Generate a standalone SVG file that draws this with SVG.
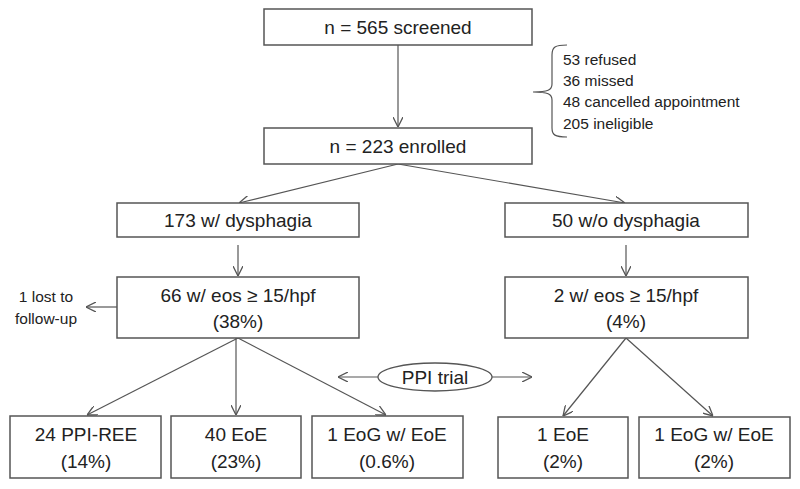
<svg xmlns="http://www.w3.org/2000/svg" width="800" height="489" viewBox="0 0 800 489">
<defs>
<marker id="arr" viewBox="0 0 10 10" refX="10" refY="5" markerWidth="10" markerHeight="10" markerUnits="userSpaceOnUse" orient="auto">
<path d="M0,0 L10,5 L0,10" fill="none" stroke="#555" stroke-width="1.3"/>
</marker>
<style>
.box{fill:#fff;stroke:#555;stroke-width:1.5}
.t{font-family:"Liberation Sans",Arial,sans-serif;font-size:19px;fill:#222;text-anchor:middle}
.s{font-family:"Liberation Sans",Arial,sans-serif;font-size:15.5px;fill:#222}
.c{fill:none;stroke:#555;stroke-width:1.2}
</style>
</defs>
<rect width="800" height="489" fill="#fff"/>
<g id="connectors">
<line class="c" x1="398" y1="45" x2="398" y2="127" marker-end="url(#arr)"/>
<line class="c" x1="398" y1="164" x2="239" y2="203" marker-end="url(#arr)"/>
<line class="c" x1="398" y1="164" x2="625" y2="203" marker-end="url(#arr)"/>
<line class="c" x1="238" y1="245" x2="238" y2="276" marker-end="url(#arr)"/>
<line class="c" x1="626" y1="245" x2="626" y2="276" marker-end="url(#arr)"/>
<line class="c" x1="117" y1="307" x2="86" y2="307" marker-end="url(#arr)"/>
<line class="c" x1="238" y1="338" x2="87" y2="415" marker-end="url(#arr)"/>
<line class="c" x1="236" y1="338" x2="236" y2="415" marker-end="url(#arr)"/>
<line class="c" x1="238" y1="338" x2="386" y2="415" marker-end="url(#arr)"/>
<line class="c" x1="626" y1="338" x2="563" y2="416" marker-end="url(#arr)"/>
<line class="c" x1="626" y1="338" x2="713" y2="416" marker-end="url(#arr)"/>
<line class="c" x1="378" y1="377" x2="338" y2="377" marker-end="url(#arr)"/>
<line class="c" x1="492" y1="377" x2="532" y2="377" marker-end="url(#arr)"/>
<path class="c" d="M567,45 C555,45 552,47 552,55 L552,84 C552,90 548,92 533,92 C548,92 552,94 552,100 L552,128 C552,135 555,137 567,137"/>
</g>
<g id="screened"><rect class="box" x="264" y="9" width="268" height="36"/><text class="t" x="398" y="34">n = 565 screened</text></g>
<g id="exclusions">
<text class="s" x="563" y="65">53 refused</text>
<text class="s" x="563" y="86">36 missed</text>
<text class="s" x="563" y="107">48 cancelled  appointment</text>
<text class="s" x="563" y="129">205 ineligible</text>
</g>
<g id="enrolled"><rect class="box" x="264" y="128" width="268" height="36"/><text class="t" x="398" y="153">n = 223 enrolled</text></g>
<g id="dysphagia"><rect class="box" x="117" y="203" width="242" height="34"/><text class="t" x="238" y="227">173 w/ dysphagia</text></g>
<g id="nodysphagia"><rect class="box" x="505" y="203" width="243" height="34"/><text class="t" x="626" y="227">50 w/o dysphagia</text></g>
<g id="eos66"><rect class="box" x="117" y="277" width="242" height="61"/><text class="t" x="238" y="302">66 w/ eos ≥ 15/hpf</text><text class="t" x="238" y="328">(38%)</text></g>
<g id="eos2"><rect class="box" x="505" y="277" width="243" height="61"/><text class="t" x="626" y="302">2 w/ eos ≥ 15/hpf</text><text class="t" x="626" y="328">(4%)</text></g>
<g id="lost"><text class="s" x="46" y="302" text-anchor="middle">1 lost to</text><text class="s" x="46" y="324" text-anchor="middle">follow-up</text></g>
<g id="ppitrial"><ellipse cx="435" cy="377" rx="57" ry="14" fill="#fff" stroke="#555" stroke-width="1.3"/><text class="t" x="435" y="384">PPI trial</text></g>
<g id="ppiree"><rect class="box" x="10" y="416" width="151" height="62"/><text class="t" x="86" y="441">24 PPI-REE</text><text class="t" x="86" y="468">(14%)</text></g>
<g id="eoe40"><rect class="box" x="171" y="416" width="130" height="62"/><text class="t" x="236" y="441">40 EoE</text><text class="t" x="236" y="468">(23%)</text></g>
<g id="eog1"><rect class="box" x="312" y="416" width="151" height="62"/><text class="t" x="387" y="441">1 EoG w/ EoE</text><text class="t" x="387" y="468">(0.6%)</text></g>
<g id="eoe1"><rect class="box" x="498" y="417" width="130" height="61"/><text class="t" x="563" y="441">1 EoE</text><text class="t" x="563" y="468">(2%)</text></g>
<g id="eog1b"><rect class="box" x="639" y="417" width="151" height="61"/><text class="t" x="714" y="441">1 EoG w/ EoE</text><text class="t" x="714" y="468">(2%)</text></g>
</svg>
